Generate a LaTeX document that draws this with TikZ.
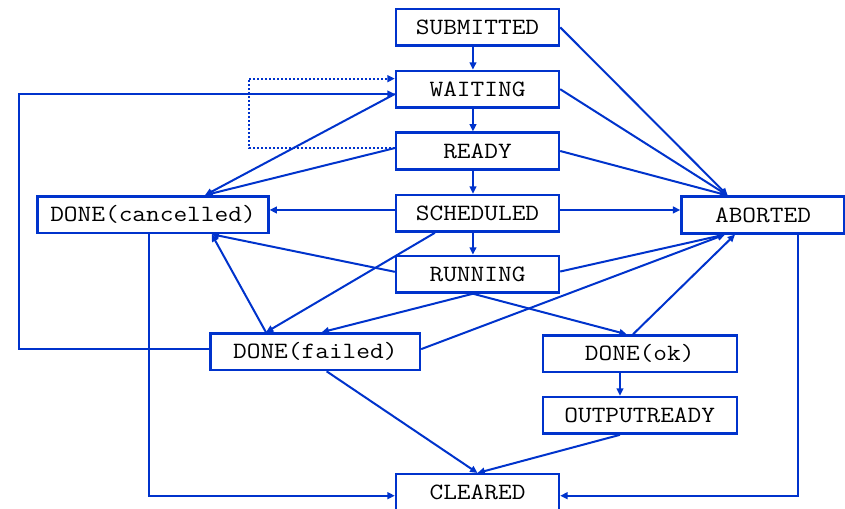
\documentclass[tikz,border=0pt]{standalone}
\usepackage{fontspec}
\setmonofont{Latin Modern Mono}[FakeStretch=1.14]
\usetikzlibrary{arrows.meta}
\definecolor{stateblue}{RGB}{0,51,204}
\tikzset{every picture/.style={line width=1.5pt}}
\tikzset{
  state/.style={draw=stateblue, line width=1.8pt, fill=white, inner sep=0pt,
    minimum width=122.25pt, minimum height=27.5pt,
    font=\ttfamily\fontsize{17.5}{20}\selectfont},
  link/.style={draw=stateblue, -{Triangle[length=5.5pt,width=5pt]}},
  dotlink/.style={link, dash pattern=on 1.5pt off 1.5pt},
}

\begin{document}
\begin{tikzpicture}[x=0.75pt,y=0.75pt,yscale=-1,xscale=1]
	\useasboundingbox (0,0) rectangle (845,509);

	% States
	\node[state] (sub) at (477.5,27.3) {SUBMITTED};
	\node[state] (wait) at (477.5,89.2) {WAITING};
	\node[state] (ready) at (477.5,151) {READY};
	\node[state] (sched) at (477.5,213.3) {SCHEDULED};
	\node[state] (run) at (477.5,274.2) {RUNNING};
	\node[state, minimum width=173pt] (cancel) at (153,214.7) {DONE(cancelled)};
	\node[state] (abort) at (763,215) {ABORTED};
	\node[state, minimum width=157pt] (failed) at (315.3,351.8) {DONE(failed)};
	\node[state, minimum width=145.5pt] (ok) at (639.7,353.8) {DONE(ok)};
	\node[state, minimum width=145.5pt] (outrdy) at (639.7,415.3) {OUTPUTREADY};
	\node[state] (clear) at (477.5,492.5) {CLEARED};

	% main chain
	\foreach \a/\b in {sub/wait, wait/ready, ready/sched, sched/run}
		\draw[link] ([xshift=-3.4pt]\a.south) -- ([xshift=-3.4pt]\b.north);

	% to ABORTED
	\foreach \a in {sub, wait, ready}
		\draw[link] (\a.east) -- ([xshift=-26.5pt]abort.north);
	\draw[link] ([yshift=-2.5pt]sched.east) -- ([yshift=-2.5pt]sched.east -| abort.west);
	\draw[link] ([yshift=-2pt]run.east) -- ([xshift=-28.5pt]abort.south);
	\draw[link] ([yshift=-2pt]failed.east) -- ([xshift=-28.5pt]abort.south);
	\draw[link] ([xshift=-5pt]ok.north) -- ([xshift=-21pt]abort.south);

	% to DONE(cancelled)
	\draw[link] ([yshift=-2.5pt]sched.west) -- ([yshift=-2.5pt]sched.west -| cancel.east);
	\draw[link] ([yshift=3.6pt]wait.west) -- ([xshift=39pt]cancel.north);
	\draw[link] ([yshift=-2.2pt]ready.west) -- ([xshift=39pt]cancel.north);
	\draw[link] ([yshift=-1.8pt]run.west) -- ([xshift=44pt]cancel.south);
	\draw[link] ([xshift=-37pt]failed.north) -- ([xshift=44pt]cancel.south);

	% to DONE(failed) and DONE(ok)
	\draw[link] ([xshift=-32pt]sched.south) -- ([xshift=-37pt]failed.north);
	\draw[link] ([xshift=-3.4pt]run.south) -- ([xshift=4.8pt]failed.north);
	\draw[link] ([xshift=-3.4pt]run.south) -- ([xshift=-9.8pt]ok.north);
	\draw[link] ([xshift=-14.8pt]ok.south) -- ([xshift=-14.8pt]outrdy.north);

	% back to WAITING
	\draw[dotlink] ([yshift=-2.2pt]ready.west) -- ++(-146,0) |- ([yshift=-7.9pt]wait.west);
	\draw[link] ([yshift=-2pt]failed.west) -- ++(-190.7,0) |- ([yshift=3.6pt]wait.west);

	% to CLEARED
	\draw[link] ([xshift=-14.8pt]outrdy.south) -- (clear.north);
	\draw[link] ([xshift=8.5pt]failed.south) -- (clear.north);
	\draw[link] ([xshift=-2.8pt]cancel.south) |- ([yshift=2.4pt]clear.west);
	\draw[link] ([xshift=26.5pt]abort.south) |- ([yshift=2.4pt]clear.east);

\end{tikzpicture}
\end{document}
